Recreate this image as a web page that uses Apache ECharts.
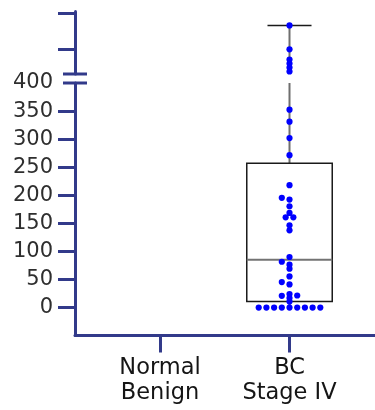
<!DOCTYPE html>
<html>
<head>
<meta charset="utf-8">
<script src="https://cdn.jsdelivr.net/npm/echarts@6/dist/echarts.min.js"></script>
<style>
  html, body { margin: 0; padding: 0; background: #fff; }
  #chart { width: 375px; height: 410px; }
</style>
</head>
<body>
<div id="chart"></div>
<script>
// Groups on the x axis
const categories = ['Normal\nBenign', 'BC\nStage IV'];

// Tick values of the two axis segments (lower segment is labelled)
const lowerTicks = [0, 50, 100, 150, 200, 250, 300, 350, 400];
const upperTicks = [800, 1400];

// Individual measurements per group
const normalBenign = [];
const bcStageIV = [
  0, 0, 0, 0, 0, 0, 0, 0, 0,
  10.7, 16.8, 20.9, 21.4, 23.9, 41.1, 45.4, 55.4, 69.1, 76.3, 81.6, 90.0,
  137.5, 146.4, 160.7, 160.7, 168.6, 180.4, 192.3, 195.4, 217.9,
  271.4, 301.8, 331.1, 352.5,
  441, 507, 573, 639, 807, 1200
];

// Box summary for BC Stage IV: min, Q1, median, Q3, max
const bcBox = [0, 10.7, 85.2, 257.1, 1200];

const AXIS_COLOR = '#323a8a';
const FONT = "'DejaVu Sans', 'Liberation Sans', Arial, sans-serif";
const LOWER = { min: -50, max: 400 };
const UPPER = { min: 400, max: 1430 };
const XR = { min: 0.3436, max: 2.6602 };
const BOX_HALF = 0.33;
const CAP_HALF = 0.17;

const chart = echarts.init(document.getElementById('chart'), null, { renderer: 'canvas' });

const axisLine = { show: true, onZero: false, lineStyle: { color: AXIS_COLOR, width: 3, cap: 'round' } };
const axisTick = (values) => ({ show: true, customValues: values, length: 17, inside: false, lineStyle: { color: AXIS_COLOR, width: 3 } });

chart.setOption({
  animation: false,
  backgroundColor: '#fff',
  grid: [
    { left: 75, right: 0, top: 83, bottom: 74.4 },
    { left: 75, right: 0, top: 11.5, height: 62.5 }
  ],
  xAxis: [
    {
      gridIndex: 0, type: 'value', min: XR.min, max: XR.max,
      axisLine: axisLine,
      axisTick: axisTick([1, 2]),
      splitLine: { show: false },
      axisLabel: {
        customValues: [1, 2], margin: 20,
        formatter: (v) => categories[Math.round(v) - 1] || '',
        color: '#151515', fontSize: 22.5, lineHeight: 25, fontFamily: FONT, align: 'center'
      }
    },
    {
      gridIndex: 1, type: 'value', min: XR.min, max: XR.max, show: false,
      splitLine: { show: false }
    }
  ],
  yAxis: [
    {
      gridIndex: 0, type: 'value', min: LOWER.min, max: LOWER.max,
      axisLine: axisLine,
      axisTick: axisTick(lowerTicks.filter(v => v < LOWER.max)),
      splitLine: { show: false },
      axisLabel: {
        customValues: lowerTicks, margin: 22,
        color: '#2e2e2e', fontSize: 21, fontFamily: FONT
      }
    },
    {
      gridIndex: 1, type: 'value', min: UPPER.min, max: UPPER.max,
      axisLine: axisLine,
      axisTick: axisTick(upperTicks),
      splitLine: { show: false },
      axisLabel: { show: false }
    }
  ]
});

// Spread points horizontally so close values do not overlap
function swarmOffsets(pys, values, step, minDy) {
  const idx = values.map((v, i) => i).sort((a, b) => values[a] - values[b]);
  const placed = [];
  const out = new Array(values.length).fill(0);
  const free = (col, py) => placed.every(p => Math.abs(p.col - col) >= 1 || Math.abs(p.py - py) >= minDy);
  let k = 0;
  while (k < idx.length) {
    let j = k;
    while (j < idx.length && values[idx[j]] === values[idx[k]]) j++;
    const n = j - k;
    if (n > 1) {
      const cols = [];
      for (let m = 0; m < n; m++) cols.push(m - (n - 1) / 2);
      cols.sort((a, b) => Math.abs(a) - Math.abs(b) || a - b);
      for (let m = 0; m < n; m++) {
        const i = idx[k + m];
        out[i] = cols[m] * step;
        placed.push({ col: cols[m], py: pys[i] });
      }
    } else {
      const i = idx[k];
      let col = 0;
      for (let r = 0; r < 50; r++) {
        const cands = r === 0 ? [0] : [-r, r];
        const hit = cands.find(c => free(c, pys[i]));
        if (hit !== undefined) { col = hit; break; }
      }
      out[i] = col * step;
      placed.push({ col, py: pys[i] });
    }
    k = j;
  }
  return out;
}

function pixelY(v) {
  return v > LOWER.max
    ? chart.convertToPixel({ yAxisIndex: 1 }, v)
    : chart.convertToPixel({ yAxisIndex: 0 }, v);
}

function pointSeries(groupIndex, values) {
  const pys = values.map(pixelY);
  const offs = swarmOffsets(pys, values, 7.7, 3.2);
  const lower = [], upper = [];
  values.forEach((v, i) => {
    const item = { value: [groupIndex, v], symbolOffset: [offs[i], 0] };
    (v > LOWER.max ? upper : lower).push(item);
  });
  const base = {
    type: 'scatter', symbol: 'circle', symbolSize: 6.2,
    itemStyle: { color: '#0000ff', opacity: 1 }, z: 10, silent: true
  };
  return [
    Object.assign({}, base, { xAxisIndex: 0, yAxisIndex: 0, data: lower }),
    Object.assign({}, base, { xAxisIndex: 1, yAxisIndex: 1, data: upper })
  ];
}

// Box, median and whisker in the lower segment
function renderLowerBox(params, api) {
  const x = api.value(0);
  const lo = api.value(1), q1 = api.value(2), med = api.value(3), q3 = api.value(4);
  const hi = Math.min(api.value(5), LOWER.max);
  const unit = api.size([1, 0])[0];
  const half = unit * BOX_HALF;
  const cx = api.coord([x, q1])[0];
  const yq1 = api.coord([x, q1])[1], yq3 = api.coord([x, q3])[1];
  const ymed = api.coord([x, med])[1], ylo = api.coord([x, lo])[1], yhi = api.coord([x, hi])[1];
  return {
    type: 'group',
    children: [
      { type: 'line', shape: { x1: cx, y1: yhi, x2: cx, y2: yq3 }, style: { stroke: '#6e6e6e', lineWidth: 2 } },
      { type: 'line', shape: { x1: cx, y1: yq1, x2: cx, y2: ylo }, style: { stroke: '#6e6e6e', lineWidth: 2 } },
      { type: 'rect', shape: { x: cx - half, y: yq3, width: 2 * half, height: yq1 - yq3 },
        style: { fill: 'rgba(255,255,255,0)', stroke: '#1a1a1a', lineWidth: 1.5 } },
      { type: 'line', shape: { x1: cx - half, y1: ymed, x2: cx + half, y2: ymed }, style: { stroke: '#737373', lineWidth: 2 } }
    ]
  };
}

// Whisker continuation and cap in the upper segment
function renderUpperWhisker(params, api) {
  const x = api.value(0);
  const hi = api.value(5);
  const unit = api.size([1, 0])[0];
  const cap = unit * CAP_HALF;
  const pHi = api.coord([x, hi]);
  const pLo = api.coord([x, UPPER.min]);
  return {
    type: 'group',
    children: [
      { type: 'line', shape: { x1: pHi[0], y1: pLo[1], x2: pHi[0], y2: pHi[1] }, style: { stroke: '#6e6e6e', lineWidth: 2 } },
      { type: 'line', shape: { x1: pHi[0] - cap, y1: pHi[1], x2: pHi[0] + cap, y2: pHi[1] }, style: { stroke: '#1a1a1a', lineWidth: 1.5 } }
    ]
  };
}

const boxData = [[2].concat(bcBox)];

// Break marks where the axis segments meet
const axisX = chart.convertToPixel({ xAxisIndex: 0 }, XR.min);
const yBreakLow = chart.convertToPixel({ yAxisIndex: 0 }, LOWER.max);
const yBreakHigh = chart.convertToPixel({ yAxisIndex: 1 }, UPPER.min);
const breakMark = (y) => ({
  type: 'line', z: 20,
  shape: { x1: axisX - 12, y1: y, x2: axisX + 12, y2: y },
  style: { stroke: AXIS_COLOR, lineWidth: 3 }
});

chart.setOption({
  graphic: [breakMark(yBreakLow), breakMark(yBreakHigh)],
  series: [
    { type: 'custom', xAxisIndex: 0, yAxisIndex: 0, renderItem: renderLowerBox, data: boxData,
      encode: { x: 0, y: [1, 2, 3, 4, 5] }, z: 5, silent: true, clip: false },
    { type: 'custom', xAxisIndex: 1, yAxisIndex: 1, renderItem: renderUpperWhisker, data: boxData,
      encode: { x: 0, y: [1, 2, 3, 4, 5] }, z: 5, silent: true, clip: false }
  ]
    .concat(pointSeries(1, normalBenign))
    .concat(pointSeries(2, bcStageIV))
});
</script>
</body>
</html>
